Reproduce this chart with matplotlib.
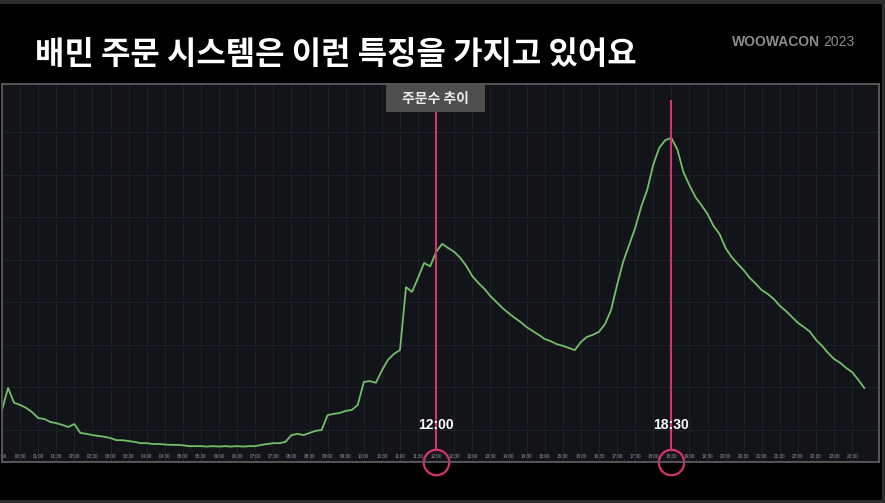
import numpy as np
import matplotlib.pyplot as plt
from matplotlib.patches import Rectangle
import matplotlib.transforms as mtransforms

# order volume per 10 minutes (arbitrary units)
order_counts = [
    147, 199, 164, 159, 152, 142,   # 00h
    128, 126, 119, 116, 112, 107,   # 01h
    114, 93, 91, 88, 86, 84,        # 02h
    81, 76, 76, 74, 72, 69,         # 03h
    69, 67, 67, 66, 65, 65,         # 04h
    64, 62, 62, 62, 61, 62,         # 05h
    61, 62, 61, 62, 61, 62,         # 06h
    62, 65, 67, 69, 69, 72,         # 07h
    88, 91, 88, 93, 98, 100,        # 08h
    135, 138, 140, 145, 147, 159,   # 09h
    213, 215, 211, 240, 265, 279,   # 10h
    288, 436, 425, 458, 493, 485,   # 11h
    519, 538, 528, 519, 505, 486,   # 12h
    462, 446, 432, 415, 401, 387,   # 13h
    375, 364, 354, 342, 333, 324,   # 14h
    314, 309, 302, 298, 293, 288,   # 15h
    307, 319, 324, 331, 349, 382,   # 16h
    441, 495, 535, 575, 625, 665,   # 17h
    724, 764, 782, 787, 760, 707,   # 18h
    676, 648, 629, 608, 580, 561,   # 19h
    528, 507, 491, 476, 458, 444,   # 20h
    429, 420, 408, 392, 380, 366,   # 21h
    352, 342, 331, 312, 298, 281,   # 22h
    267, 258, 246, 236, 218, 199,   # 23h
]
hours = np.arange(len(order_counts)) / 6.0

tick_hours = np.arange(0, 24, 0.5)
tick_labels = [f"{int(h):02d}:{int(round((h % 1) * 60)):02d}" for h in tick_hours]

marked_hours = [12.0, 18.5]
marked_labels = ["12:00", "18:30"]
marked_tops = [0.926, 0.955]   # where each marker line starts (axes fraction)

title = "배민 주문 시스템은 이런 특징을 가지고 있어요"
panel_title = "주문수 추이"

fig = plt.figure(figsize=(8.85, 5.03), dpi=100, facecolor="black")

# screenshot frame strips
for x0, y0, w, h in [(0, 499 / 503, 1, 4 / 503), (882 / 885, 0, 3 / 885, 1), (0, 0, 1, 3 / 503)]:
    fig.patches.append(Rectangle((x0, y0), w, h, transform=fig.transFigure,
                                 facecolor="#2e2e2e", edgecolor="none"))

fig.text(35 / 885, 1 - 55 / 503, title, color="white", fontsize=23, fontweight="bold",
         family=["Noto Sans CJK KR", "DejaVu Sans"], va="center", ha="left")
fig.text(732 / 885, 1 - 42 / 503, "WOOWACON", color="#8c8c8c", fontsize=10, fontweight="bold",
         family="Liberation Sans", va="center", ha="left")
fig.text(855 / 885, 1 - 42 / 503, "2023", color="#8c8c8c", fontsize=10,
         family="Liberation Sans", va="center", ha="right")

ax = fig.add_axes([2 / 885, 41 / 503, 877 / 885, 378 / 503])
ax.set_facecolor("#121419")
for s in ax.spines.values():
    s.set_color("#5c5c5c")
    s.set_linewidth(1.3)

ax.plot(hours, order_counts, color="#73bf69", lw=1.3)

ax.set_xlim(0, 24.24)
ax.set_ylim(24.7, 914)
ax.set_xticks(tick_hours)
ax.set_xticklabels(tick_labels, fontsize=3.3, color="#9a9a9a", family="Liberation Sans")
ax.set_yticks(np.arange(100, 900, 100))
ax.set_yticklabels([])
ax.tick_params(axis="x", direction="in", length=0, pad=-5.5)
ax.tick_params(axis="y", length=0)
ax.grid(True, color="#1e242b", lw=0.6)

# panel title box
ax.add_patch(Rectangle((0.4379, 0.926), 0.1129, 0.072, transform=ax.transAxes,
                       facecolor="#4e4e4e", edgecolor="none", zorder=4))
ax.text(0.4938, 0.9616, panel_title, transform=ax.transAxes, ha="center", va="center",
        fontsize=10, fontweight="bold", color="#ececec", zorder=5,
        family=["Noto Sans CJK KR", "DejaVu Sans"])

trans = mtransforms.blended_transform_factory(ax.transData, ax.transAxes)
for hx, lab, top in zip(marked_hours, marked_labels, marked_tops):
    ax.plot([hx, hx], [0.034, top], transform=trans, color="#d6336c", lw=1.5, clip_on=False)
    ax.plot([hx], [0.0], transform=trans, marker="o", markersize=18.3, markerfacecolor="none",
            markeredgecolor="#d6336c", markeredgewidth=1.6, clip_on=False)
    ax.text(hx, 0.098, lab, transform=trans, ha="center", va="center", fontsize=10,
            fontweight="bold", color="white", family="Liberation Sans")

fig.savefig("out.png", dpi=100, facecolor="black")
